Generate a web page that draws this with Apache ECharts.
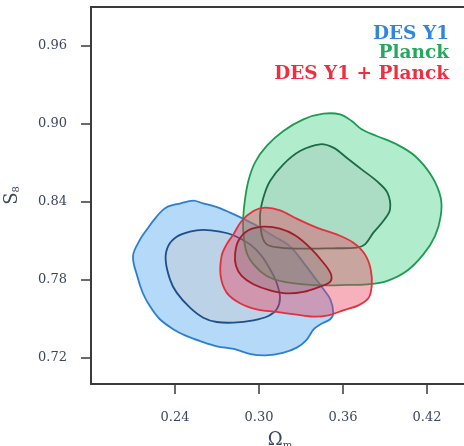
<!DOCTYPE html>
<html>
<head>
<meta charset="utf-8">
<script src="https://cdn.jsdelivr.net/npm/echarts@6/dist/echarts.min.js"></script>
<style>html,body{margin:0;padding:0;background:#fff;}#c{width:464px;height:446px;}</style>
</head>
<body>
<div id="c"></div>
<script>
// ---- data (Omega_m, S8) contour vertices ----
var xTicks = [0.24, 0.30, 0.36, 0.42];
var xTickLabels = ['0.24', '0.30', '0.36', '0.42'];
var yTicks = [0.72, 0.78, 0.84, 0.90, 0.96];
var yTickLabels = ['0.72', '0.78', '0.84', '0.90', '0.96'];
var legendNames = ['DES Y1', 'Planck', 'DES Y1 + Planck'];

var desOuter = [[0.210,0.7985],[0.215,0.811],[0.220,0.819],[0.227,0.829],[0.234,0.836],[0.244,0.839],[0.253,0.841],[0.260,0.839],[0.270,0.836],[0.279,0.832],[0.289,0.827],[0.298,0.822],[0.310,0.814],[0.322,0.806],[0.332,0.793],[0.339,0.783],[0.346,0.773],[0.351,0.765],[0.353,0.755],[0.351,0.750],[0.344,0.746],[0.339,0.742],[0.334,0.734],[0.327,0.728],[0.317,0.724],[0.305,0.722],[0.294,0.723],[0.282,0.727],[0.270,0.729],[0.258,0.733],[0.248,0.737],[0.239,0.742],[0.229,0.750],[0.222,0.760],[0.217,0.770],[0.213,0.783]];
var desInner = [[0.2333,0.7959],[0.2352,0.8062],[0.2412,0.8133],[0.2507,0.8172],[0.2602,0.8185],[0.2721,0.8172],[0.2817,0.8144],[0.2936,0.8074],[0.3019,0.7985],[0.3079,0.7882],[0.3126,0.7779],[0.3150,0.7664],[0.3126,0.7574],[0.3067,0.7523],[0.2960,0.7490],[0.2817,0.7472],[0.2698,0.7477],[0.2602,0.7510],[0.2507,0.7587],[0.2412,0.7703],[0.2364,0.7805]];
var planckOuter = [[0.2900,0.8420],[0.2924,0.8562],[0.2971,0.8703],[0.3055,0.8831],[0.3174,0.8946],[0.3317,0.9036],[0.3460,0.9079],[0.3579,0.9074],[0.3662,0.9023],[0.3733,0.8959],[0.3840,0.8908],[0.3983,0.8844],[0.4114,0.8754],[0.4233,0.8600],[0.4298,0.8433],[0.4298,0.8292],[0.4257,0.8138],[0.4174,0.7997],[0.4055,0.7869],[0.3912,0.7792],[0.3769,0.7767],[0.3626,0.7762],[0.3483,0.7759],[0.3317,0.7767],[0.3174,0.7787],[0.3055,0.7831],[0.2971,0.7908],[0.2912,0.8010],[0.2888,0.8164],[0.2888,0.8292]];
var planckInner = [[0.3436,0.8844],[0.3531,0.8818],[0.3626,0.8741],[0.3733,0.8651],[0.3840,0.8562],[0.3917,0.8472],[0.3936,0.8344],[0.3888,0.8254],[0.3817,0.8164],[0.3757,0.8074],[0.3698,0.8049],[0.3531,0.8044],[0.3340,0.8041],[0.3150,0.8049],[0.3055,0.8074],[0.3019,0.8151],[0.3007,0.8292],[0.3031,0.8433],[0.3079,0.8562],[0.3174,0.8690],[0.3293,0.8792]];
var jointOuter = [[0.2817,0.8151],[0.2876,0.8254],[0.2960,0.8331],[0.3043,0.8356],[0.3150,0.8336],[0.3269,0.8272],[0.3412,0.8203],[0.3555,0.8151],[0.3674,0.8087],[0.3757,0.7997],[0.3798,0.7882],[0.3805,0.7754],[0.3781,0.7659],[0.3710,0.7605],[0.3602,0.7567],[0.3495,0.7528],[0.3388,0.7518],[0.3269,0.7533],[0.3126,0.7554],[0.2983,0.7574],[0.2864,0.7621],[0.2769,0.7703],[0.2726,0.7831],[0.2733,0.7985],[0.2769,0.8074]];
var jointInner = [[0.2829,0.7997],[0.2852,0.8100],[0.2924,0.8182],[0.3031,0.8210],[0.3150,0.8195],[0.3257,0.8144],[0.3364,0.8049],[0.3460,0.7933],[0.3514,0.7844],[0.3507,0.7785],[0.3436,0.7749],[0.3317,0.7708],[0.3198,0.7697],[0.3079,0.7720],[0.2960,0.7767],[0.2876,0.7831],[0.2836,0.7908]];

function contour(name, pts, fill, stroke) {
  return {
    type: 'custom',
    name: name,
    coordinateSystem: 'cartesian2d',
    clip: true,
    silent: true,
    data: pts,
    encode: { x: 0, y: 1 },
    renderItem: function (params, api) {
      if (params.dataIndex !== 0) return null;
      var p = pts.map(function (d) { return api.coord(d); });
      return {
        type: 'polygon',
        shape: { points: p, smooth: 0.35 },
        style: { fill: fill, stroke: stroke, lineWidth: 1.8 }
      };
    }
  };
}

var chart = echarts.init(document.getElementById('c'), null, { renderer: 'canvas' });
var serif = '"DejaVu Serif", "Liberation Serif", serif';
chart.setOption({
  animation: false,
  backgroundColor: '#ffffff',
  grid: { left: 91, top: 7, right: -5, bottom: 62, containLabel: false, outerBoundsMode: 'none',
    show: true, borderColor: '#3a3a3a', borderWidth: 1.8, backgroundColor: 'transparent' },
  xAxis: {
    type: 'value', min: 0.18, max: 0.45,
    splitLine: { show: false },
    axisLine: { lineStyle: { color: '#3a3a3a', width: 1.8 } },
    axisTick: { customValues: xTicks, length: 10, lineStyle: { color: '#3a3a3a', width: 1.5 } },
    axisLabel: { customValues: xTicks, margin: 27, fontFamily: serif, fontSize: 13, color: '#3c4660',
      formatter: function (v) { return xTickLabels[xTicks.indexOf(+v.toFixed(2))] || ''; } },
    name: 'Ω{sub|m}', nameLocation: 'middle', nameGap: 46,
    nameTextStyle: { fontFamily: serif, fontSize: 18, color: '#3c4660',
      rich: { sub: { fontSize: 10, fontFamily: serif, color: '#3c4660', padding: [10, 0, 0, 0] } } }
  },
  yAxis: {
    type: 'value', min: 0.70, max: 0.99,
    splitLine: { show: false },
    axisLine: { lineStyle: { color: '#3a3a3a', width: 1.8 } },
    axisTick: { customValues: yTicks, length: 10, lineStyle: { color: '#3a3a3a', width: 1.5 } },
    axisLabel: { customValues: yTicks, margin: 24, fontFamily: serif, fontSize: 13, color: '#3c4660',
      formatter: function (v) { return yTickLabels[yTicks.indexOf(+v.toFixed(2))] || ''; } },
    name: 'S{sub|8}', nameLocation: 'middle', nameGap: 70, nameRotate: 90,
    nameTextStyle: { fontFamily: serif, fontSize: 18, color: '#3c4660',
      rich: { sub: { fontSize: 10, fontFamily: serif, color: '#3c4660', padding: [8, 0, 0, 0] } } }
  },
  graphic: [
    { type: 'text', right: 15, top: 25, style: { text: legendNames[0], fill: '#2f86dc', font: 'bold 18.5px ' + serif, textAlign: 'right' } },
    { type: 'text', right: 15, top: 44, style: { text: legendNames[1], fill: '#25a85c', font: 'bold 18.5px ' + serif, textAlign: 'right' } },
    { type: 'text', right: 15, top: 65, style: { text: legendNames[2], fill: '#ee2f3f', font: 'bold 18.5px ' + serif, textAlign: 'right' } }
  ],
  series: [
    contour(legendNames[0], desOuter, 'rgba(90,170,240,0.45)', '#2b7fd2'),
    contour(legendNames[0] + ' inner', desInner, 'rgba(200,200,205,0.4)', '#1d4f88'),
    contour(legendNames[1], planckOuter, 'rgba(60,210,130,0.4)', '#1f9a52'),
    contour(legendNames[1] + ' inner', planckInner, 'rgba(160,190,180,0.35)', '#1d6b45'),
    contour(legendNames[2], jointOuter, 'rgba(235,60,90,0.4)', '#e2303c'),
    contour(legendNames[2] + ' inner', jointInner, 'rgba(110,100,100,0.25)', '#a01e2c')
  ]
});
</script>
</body>
</html>
